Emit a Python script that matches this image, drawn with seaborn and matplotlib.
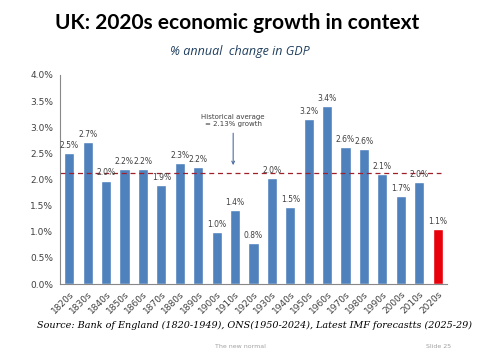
import matplotlib
matplotlib.use('Agg')
import matplotlib.pyplot as plt
import seaborn as sns
import numpy as np
import pandas as pd

decades = ['1820s', '1830s', '1840s', '1850s', '1860s', '1870s', '1880s', '1890s',
           '1900s', '1910s', '1920s', '1930s', '1940s', '1950s', '1960s', '1970s',
           '1980s', '1990s', '2000s', '2010s', '2020s']
growth = [2.51, 2.72, 1.98, 2.20, 2.20, 1.90, 2.32, 2.23, 1.00, 1.42, 0.79, 2.03,
          1.48, 3.15, 3.40, 2.62, 2.58, 2.11, 1.69, 1.95, 1.05]
labels = ['2.5%', '2.7%', '2.0%', '2.2%', '2.2%', '1.9%', '2.3%', '2.2%', '1.0%', '1.4%',
          '0.8%', '2.0%', '1.5%', '3.2%', '3.4%', '2.6%', '2.6%', '2.1%', '1.7%', '2.0%', '1.1%']
hist_avg = 2.13

df = pd.DataFrame({'decade': decades, 'growth': growth})
colors = ['#4F81BD'] * (len(decades) - 1) + ['#E8000B']

sns.set_style('white')
fig = plt.figure(figsize=(4.8, 3.6), dpi=100)
ax = fig.add_axes([0.125, 0.211, 0.806, 0.581])

sns.barplot(data=df, x='decade', y='growth', hue='decade', palette=colors,
            legend=False, width=0.55, saturation=1, ax=ax)

# value labels above bars
for i, (v, t) in enumerate(zip(growth, labels)):
    ax.text(i, v + 0.06, t, ha='center', va='bottom', fontsize=5.5, color='#404040')

# historical average line + note
ax.axhline(hist_avg, xmin=0, xmax=0.985, color='#A0202A', lw=0.9, ls=(0, (4, 3)))
ax.annotate('Historical average\n= 2.13% growth', xy=(8.9, 2.22), xytext=(8.9, 3.0),
            ha='center', va='bottom', fontsize=5, color='#404040',
            arrowprops=dict(arrowstyle='->', color='#4F6F9F', lw=0.8))

ax.set_ylim(0, 4.0)
ax.set_xlim(-0.5, len(decades) - 0.5)
ax.set_yticks(np.arange(0, 4.01, 0.5))
ax.set_yticklabels([f'{v:.1f}%' for v in np.arange(0, 4.01, 0.5)], fontsize=6.5, color='#404040')
ax.set_xticks(range(len(decades)))
ax.set_xticklabels(decades, rotation=45, ha='right', rotation_mode='anchor',
                   fontsize=6.5, color='#404040')
ax.set_xticks(np.arange(-0.5, len(decades), 1), minor=True)
ax.tick_params(axis='x', which='major', length=0, pad=4)
ax.tick_params(axis='x', which='minor', length=3, color='#888888', direction='out')
ax.tick_params(axis='y', length=3, color='#888888', direction='out', pad=2)
ax.set_xlabel('')
ax.set_ylabel('')
for s in ['top', 'right']:
    ax.spines[s].set_visible(False)
for s in ['left', 'bottom']:
    ax.spines[s].set_color('#888888')
    ax.spines[s].set_linewidth(0.8)

fig.text(0.495, 0.935, 'UK: 2020s economic growth in context', ha='center', va='center',
         fontsize=15, fontweight='bold', family='Lato', color='black')
fig.text(0.5, 0.858, '% annual  change in GDP', ha='center', va='center',
         fontsize=9, style='italic', family='Open Sans', color='#1F3F5F')
fig.text(0.53, 0.095, 'Source: Bank of England (1820-1949), ONS(1950-2024), Latest IMF forecastts (2025-29)',
         ha='center', va='center', fontsize=6.9, style='italic', family='DejaVu Serif', color='black')
fig.text(0.5, 0.038, 'The new normal', ha='center', va='center', fontsize=4.5, color='#A0A0A0')
fig.text(0.94, 0.038, 'Slide 25', ha='right', va='center', fontsize=4.5, color='#A0A0A0')

fig.savefig('out.png', dpi=100)
